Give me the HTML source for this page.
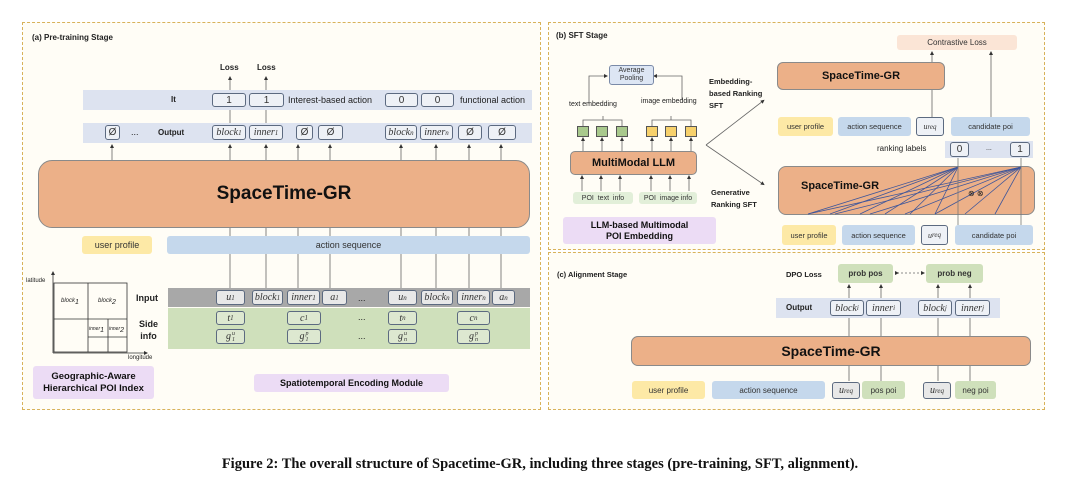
<!DOCTYPE html><html><head><style>
body{margin:0;width:1080px;height:479px;background:#fff;position:relative;overflow:hidden;font-family:"Liberation Sans",sans-serif}
.a{position:absolute;box-sizing:border-box}
.t{position:absolute;white-space:nowrap;font-size:9px;color:#222}
.b{font-weight:bold}
.bx{position:absolute;box-sizing:border-box;border:1px solid #5c6a80;border-radius:3px;background:#eef1f6;font-family:"Liberation Serif",serif;font-style:italic;font-size:10px;display:flex;align-items:center;justify-content:center;color:#333}
.n{font-style:normal;font-family:"Liberation Sans",sans-serif}
.pl{position:absolute;box-sizing:border-box;border-radius:3px;display:flex;align-items:center;justify-content:center;font-size:9px;color:#333}
.or{position:absolute;box-sizing:border-box;background:#ecb088;border:1px solid #8a8a8a;border-radius:10px;display:flex;align-items:center;justify-content:center;font-weight:bold;color:#111}
sub,sup{font-size:7px;line-height:0}
.g{display:inline-flex;align-items:center}
.ss{display:inline-flex;flex-direction:column;font-size:6px;line-height:6px;margin-left:1px}
</style></head><body>
<div class="a" style="left:22px;top:22px;width:519px;height:388px;border:1px dashed #d8b25a;background:#fffdf6"></div>
<div class="a" style="left:548px;top:22px;width:497px;height:228px;border:1px dashed #d8b25a;background:#fffdf6"></div>
<div class="a" style="left:548px;top:252px;width:497px;height:158px;border:1px dashed #d8b25a;background:#fffdf6"></div>

<svg class="a" style="left:0;top:0" width="1080" height="479">
<defs><marker id="ar" markerWidth="5" markerHeight="5" refX="2.5" refY="2.5" orient="auto"><path d="M0,0L5,2.5L0,5z" fill="#333"/></marker></defs>
<g stroke="#666" stroke-width="0.8" fill="none">
<line x1="230" y1="91" x2="230" y2="78" marker-end="url(#ar)"/><line x1="266" y1="91" x2="266" y2="78" marker-end="url(#ar)"/>
<line x1="230" y1="110" x2="230" y2="123"/><line x1="266" y1="110" x2="266" y2="123"/>
<g marker-end="url(#ar)"><line x1="112" y1="160" x2="112" y2="146"/><line x1="230" y1="160" x2="230" y2="146"/><line x1="266" y1="160" x2="266" y2="146"/><line x1="298" y1="160" x2="298" y2="146"/><line x1="330" y1="160" x2="330" y2="146"/><line x1="401" y1="160" x2="401" y2="146"/><line x1="436" y1="160" x2="436" y2="146"/><line x1="469" y1="160" x2="469" y2="146"/><line x1="501" y1="160" x2="501" y2="146"/></g>
<line x1="230" y1="228" x2="230" y2="288"/><line x1="266" y1="228" x2="266" y2="288"/><line x1="298" y1="228" x2="298" y2="288"/><line x1="330" y1="228" x2="330" y2="288"/><line x1="401" y1="228" x2="401" y2="288"/><line x1="436" y1="228" x2="436" y2="288"/><line x1="469" y1="228" x2="469" y2="288"/><line x1="501" y1="228" x2="501" y2="288"/>
<g stroke="#333"><line x1="53" y1="353" x2="53" y2="273" marker-end="url(#ar)"/><line x1="53" y1="353" x2="146" y2="353" marker-end="url(#ar)"/>
<rect x="54" y="283" width="73" height="69"/><line x1="88" y1="283" x2="88" y2="352"/><line x1="54" y1="319" x2="127" y2="319"/><line x1="88" y1="337" x2="127" y2="337"/><line x1="108" y1="319" x2="108" y2="352"/></g>
<polyline points="583,126 583,120 622,120 622,126"/><line x1="603" y1="120" x2="603" y2="116"/><polyline points="589,104 589,76 606,76" marker-end="url(#ar)"/>
<polyline points="652,126 652,120 691,120 691,126"/><line x1="671" y1="120" x2="671" y2="116"/><polyline points="682,100 682,76 655,76" marker-end="url(#ar)"/>
<g marker-end="url(#ar)"><line x1="583" y1="151" x2="583" y2="139"/><line x1="602" y1="151" x2="602" y2="139"/><line x1="622" y1="151" x2="622" y2="139"/><line x1="652" y1="151" x2="652" y2="139"/><line x1="671" y1="151" x2="671" y2="139"/><line x1="691" y1="151" x2="691" y2="139"/>
<line x1="582" y1="191" x2="582" y2="177"/><line x1="601" y1="191" x2="601" y2="177"/><line x1="620" y1="191" x2="620" y2="177"/><line x1="651" y1="191" x2="651" y2="177"/><line x1="670" y1="191" x2="670" y2="177"/><line x1="689" y1="191" x2="689" y2="177"/>
<line x1="706" y1="145" x2="763" y2="101"/><line x1="706" y1="145" x2="763" y2="184"/>
<line x1="932" y1="117" x2="932" y2="53"/><line x1="991" y1="117" x2="991" y2="53"/></g>
<g marker-end="url(#ar)"><line x1="849" y1="298" x2="849" y2="286"/><line x1="881" y1="298" x2="881" y2="286"/><line x1="938" y1="298" x2="938" y2="286"/><line x1="970" y1="298" x2="970" y2="286"/></g>
<line x1="849" y1="318" x2="849" y2="336"/><line x1="881" y1="318" x2="881" y2="336"/><line x1="938" y1="318" x2="938" y2="336"/><line x1="970" y1="318" x2="970" y2="336"/>
<line x1="849" y1="366" x2="849" y2="381"/><line x1="881" y1="366" x2="881" y2="381"/><line x1="938" y1="366" x2="938" y2="381"/><line x1="970" y1="366" x2="970" y2="381"/>
<line x1="897" y1="273" x2="923" y2="273" stroke-dasharray="2,2" marker-end="url(#ar)" marker-start="url(#ar)"/>
</g></svg>

<!-- panel a -->
<div class="t b" style="left:32px;top:33px;font-size:8px">(a) Pre-training Stage</div>
<div class="t b" style="left:220px;top:63px;font-size:8px">Loss</div><div class="t b" style="left:257px;top:63px;font-size:8px">Loss</div>
<div class="a" style="left:83px;top:90px;width:449px;height:20px;background:#dde3f0"></div>
<div class="t b" style="left:171px;top:95px;font-size:8px">It</div>
<div class="bx n" style="left:212px;top:93px;width:34px;height:14px">1</div><div class="bx n" style="left:249px;top:93px;width:35px;height:14px">1</div>
<div class="t" style="left:288px;top:95px">Interest-based action</div>
<div class="bx n" style="left:385px;top:93px;width:33px;height:14px">0</div><div class="bx n" style="left:421px;top:93px;width:33px;height:14px">0</div>
<div class="t" style="left:460px;top:95px">functional action</div>
<div class="a" style="left:83px;top:123px;width:449px;height:20px;background:#dde3f0"></div>
<div class="bx n" style="left:105px;top:125px;width:15px;height:15px">Ø</div>
<div class="t" style="left:131px;top:127px">...</div><div class="t b" style="left:158px;top:128px;font-size:8px">Output</div>
<div class="bx" style="left:212px;top:125px;width:34px;height:15px">block<sub>1</sub></div><div class="bx" style="left:249px;top:125px;width:34px;height:15px">inner<sub>1</sub></div>
<div class="bx n" style="left:296px;top:125px;width:17px;height:15px">Ø</div><div class="bx n" style="left:318px;top:125px;width:25px;height:15px">Ø</div>
<div class="bx" style="left:385px;top:125px;width:32px;height:15px">block<sub>n</sub></div><div class="bx" style="left:420px;top:125px;width:33px;height:15px">inner<sub>n</sub></div>
<div class="bx n" style="left:458px;top:125px;width:24px;height:15px">Ø</div><div class="bx n" style="left:488px;top:125px;width:28px;height:15px">Ø</div>
<div class="or" style="left:38px;top:160px;width:492px;height:68px;font-size:19px;border-radius:14px">SpaceTime-GR</div>
<div class="pl" style="left:82px;top:236px;width:70px;height:18px;background:#fde9a6">user profile</div>
<div class="pl" style="left:167px;top:236px;width:363px;height:18px;background:#c5d8ec">action sequence</div>
<div class="a" style="left:168px;top:288px;width:362px;height:19px;background:#a8a8a8"></div>
<div class="a" style="left:168px;top:308px;width:362px;height:41px;background:#cfe0bb"></div>
<div class="t b" style="left:136px;top:293px">Input</div>
<div class="t b" style="left:139px;top:318px;text-align:center;line-height:12px">Side<br>info</div>
<div class="bx" style="left:216px;top:290px;width:29px;height:15px;background:#e8e8e8">u<sub>1</sub></div>
<div class="bx" style="left:252px;top:290px;width:31px;height:15px;background:#e8e8e8">block<sub>1</sub></div>
<div class="bx" style="left:287px;top:290px;width:33px;height:15px;background:#e8e8e8">inner<sub>1</sub></div>
<div class="bx" style="left:322px;top:290px;width:25px;height:15px;background:#e8e8e8">a<sub>1</sub></div>
<div class="t" style="left:358px;top:293px">...</div>
<div class="bx" style="left:388px;top:290px;width:29px;height:15px;background:#e8e8e8">u<sub>n</sub></div>
<div class="bx" style="left:421px;top:290px;width:32px;height:15px;background:#e8e8e8">block<sub>n</sub></div>
<div class="bx" style="left:457px;top:290px;width:33px;height:15px;background:#e8e8e8">inner<sub>n</sub></div>
<div class="bx" style="left:492px;top:290px;width:23px;height:15px;background:#e8e8e8">a<sub>n</sub></div>
<div class="bx" style="left:216px;top:311px;width:29px;height:14px;background:#dde8d0">t<sub>1</sub></div>
<div class="bx" style="left:287px;top:311px;width:34px;height:14px;background:#dde8d0">c<sub>1</sub></div>
<div class="bx" style="left:388px;top:311px;width:29px;height:14px;background:#dde8d0">t<sub>n</sub></div>
<div class="bx" style="left:457px;top:311px;width:33px;height:14px;background:#dde8d0">c<sub>n</sub></div>
<div class="bx" style="left:216px;top:329px;width:29px;height:15px;background:#dde8d0">g<span class="ss"><span>u</span><span>1</span></span></div>
<div class="bx" style="left:287px;top:329px;width:34px;height:15px;background:#dde8d0">g<span class="ss"><span>p</span><span>1</span></span></div>
<div class="bx" style="left:388px;top:329px;width:29px;height:15px;background:#dde8d0">g<span class="ss"><span>u</span><span>n</span></span></div>
<div class="bx" style="left:457px;top:329px;width:33px;height:15px;background:#dde8d0">g<span class="ss"><span>p</span><span>n</span></span></div>
<div class="t" style="left:358px;top:312px">...</div><div class="t" style="left:358px;top:331px">...</div>
<div class="t" style="left:26px;top:278px;font-size:6px">latitude</div><div class="t" style="left:128px;top:355px;font-size:6px">longitude</div>
<div class="t" style="left:61px;top:298px;font-size:6px;font-style:italic">block<sub>1</sub></div><div class="t" style="left:98px;top:298px;font-size:6px;font-style:italic">block<sub>2</sub></div>
<div class="t" style="left:89px;top:326px;font-size:5px;font-style:italic">inner<sub>1</sub></div><div class="t" style="left:109px;top:326px;font-size:5px;font-style:italic">inner<sub>2</sub></div>
<div class="pl b" style="left:33px;top:366px;width:121px;height:33px;background:#ecdcf5;font-size:9.5px;color:#111;text-align:center;line-height:12px">Geographic-Aware<br>Hierarchical POI Index</div>
<div class="pl b" style="left:254px;top:374px;width:195px;height:18px;background:#ecdcf5;font-size:9px;color:#111">Spatiotemporal Encoding Module</div>

<!-- panel b -->
<div class="t b" style="left:556px;top:31px;font-size:8px">(b) SFT Stage</div>
<div class="pl" style="left:609px;top:65px;width:45px;height:20px;background:#dde6f4;border:1px solid #7a8aa8;font-size:7px;line-height:8px;text-align:center">Average<br>Pooling</div>
<div class="t" style="left:569px;top:101px;font-size:7px">text embedding</div><div class="t" style="left:641px;top:98px;font-size:7px">image embedding</div>
<div class="a" style="left:577px;top:126px;width:12px;height:11px;background:#a9c98d;border:1px solid #555"></div>
<div class="a" style="left:596px;top:126px;width:12px;height:11px;background:#a9c98d;border:1px solid #555"></div>
<div class="a" style="left:616px;top:126px;width:12px;height:11px;background:#a9c98d;border:1px solid #555"></div>
<div class="a" style="left:646px;top:126px;width:12px;height:11px;background:#f7d16c;border:1px solid #555"></div>
<div class="a" style="left:665px;top:126px;width:12px;height:11px;background:#f7d16c;border:1px solid #555"></div>
<div class="a" style="left:685px;top:126px;width:12px;height:11px;background:#f7d16c;border:1px solid #555"></div>
<div class="or" style="left:570px;top:151px;width:127px;height:24px;font-size:11px;border-radius:5px">MultiModal LLM</div>
<div class="pl" style="left:573px;top:192px;width:60px;height:12px;background:#e2efd9;font-size:7px">POI&nbsp; text&nbsp; info</div>
<div class="pl" style="left:639px;top:192px;width:58px;height:12px;background:#e2efd9;font-size:7px">POI&nbsp; image info</div>
<div class="pl b" style="left:563px;top:217px;width:153px;height:27px;background:#ecdcf5;font-size:9px;color:#111;line-height:11px;text-align:center">LLM-based Multimodal<br>POI Embedding</div>
<div class="t b" style="left:709px;top:76px;font-size:7.5px;line-height:12px">Embedding-<br>based Ranking<br>SFT</div>
<div class="t b" style="left:711px;top:187px;font-size:7.5px;line-height:12px">Generative<br>Ranking SFT</div>
<div class="pl" style="left:897px;top:35px;width:120px;height:15px;background:#fbe5d6;font-size:8px">Contrastive Loss</div>
<div class="or" style="left:777px;top:62px;width:168px;height:28px;font-size:11px;border-radius:6px">SpaceTime-GR</div>
<div class="pl" style="left:778px;top:117px;width:55px;height:19px;background:#fde9a6;font-size:7.5px">user profile</div>
<div class="pl" style="left:838px;top:117px;width:73px;height:19px;background:#c5d8ec;font-size:7.5px">action sequence</div>
<div class="bx" style="left:916px;top:117px;width:28px;height:19px;font-size:8px">u<sub>req</sub></div>
<div class="pl" style="left:951px;top:117px;width:79px;height:19px;background:#c5d8ec;font-size:7.5px">candidate poi</div>
<div class="a" style="left:945px;top:141px;width:88px;height:17px;background:#dde3f0"></div>
<div class="t" style="left:877px;top:144px;font-size:8px">ranking labels</div>
<div class="bx n" style="left:950px;top:142px;width:19px;height:15px">0</div><div class="t" style="left:986px;top:145px;font-size:7px">...</div>
<div class="bx n" style="left:1010px;top:142px;width:20px;height:15px">1</div>
<div class="or" style="left:778px;top:166px;width:257px;height:49px;font-size:11px;border-radius:8px;justify-content:flex-start;align-items:flex-start;padding:13px 0 0 22px">SpaceTime-GR</div>
<svg class="a" style="left:0;top:0" width="1080" height="479">
<g stroke="#3d559a" stroke-width="0.8"><line x1="808" y1="214" x2="958" y2="167"/><line x1="830" y1="214" x2="958" y2="167"/><line x1="860" y1="214" x2="958" y2="167"/><line x1="885" y1="214" x2="958" y2="167"/><line x1="910" y1="214" x2="958" y2="167"/><line x1="935" y1="214" x2="958" y2="167"/><line x1="808" y1="214" x2="1021" y2="167"/><line x1="835" y1="214" x2="1021" y2="167"/><line x1="870" y1="214" x2="1021" y2="167"/><line x1="905" y1="214" x2="1021" y2="167"/><line x1="935" y1="214" x2="1021" y2="167"/><line x1="965" y1="214" x2="1021" y2="167"/><line x1="995" y1="214" x2="1021" y2="167"/></g>
<g stroke="#777" stroke-width="0.8"><line x1="958" y1="225" x2="958" y2="158"/><line x1="1021" y1="225" x2="1021" y2="158"/></g>
</svg>
<div class="t" style="left:968px;top:189px;font-size:8px">⊗ ⊗</div>
<div class="pl" style="left:782px;top:225px;width:54px;height:20px;background:#fde9a6;font-size:7.5px">user profile</div>
<div class="pl" style="left:842px;top:225px;width:73px;height:20px;background:#c5d8ec;font-size:7.5px">action sequence</div>
<div class="bx" style="left:921px;top:225px;width:27px;height:20px;font-size:8px">u<sub>req</sub></div>
<div class="pl" style="left:955px;top:225px;width:78px;height:20px;background:#c5d8ec;font-size:7.5px">candidate poi</div>

<!-- panel c -->
<div class="t b" style="left:557px;top:270px;font-size:7.5px">(c) Alignment Stage</div>
<div class="t b" style="left:786px;top:270px;font-size:7.5px">DPO Loss</div>
<div class="pl b" style="left:838px;top:264px;width:55px;height:19px;background:#cfe0bb;font-size:8px">prob pos</div>
<div class="pl b" style="left:926px;top:264px;width:57px;height:19px;background:#cfe0bb;font-size:8px">prob neg</div>
<div class="a" style="left:776px;top:298px;width:224px;height:20px;background:#dde3f0"></div>
<div class="t b" style="left:786px;top:303px;font-size:8px">Output</div>
<div class="bx" style="left:830px;top:300px;width:34px;height:16px">block<sub>i</sub></div>
<div class="bx" style="left:866px;top:300px;width:35px;height:16px">inner<sub>i</sub></div>
<div class="bx" style="left:918px;top:300px;width:34px;height:16px">block<sub>j</sub></div>
<div class="bx" style="left:955px;top:300px;width:35px;height:16px">inner<sub>j</sub></div>
<div class="or" style="left:631px;top:336px;width:400px;height:30px;font-size:14px;border-radius:7px">SpaceTime-GR</div>
<div class="pl" style="left:632px;top:381px;width:73px;height:18px;background:#fde9a6;font-size:8px">user profile</div>
<div class="pl" style="left:712px;top:381px;width:113px;height:18px;background:#c5d8ec;font-size:8px">action sequence</div>
<div class="bx" style="left:832px;top:382px;width:28px;height:17px;background:#e8e8e8">u<sub>req</sub></div>
<div class="pl" style="left:862px;top:381px;width:43px;height:18px;background:#cfe0bb;font-size:8px">pos poi</div>
<div class="bx" style="left:923px;top:382px;width:28px;height:17px;background:#e8e8e8">u<sub>req</sub></div>
<div class="pl" style="left:955px;top:381px;width:41px;height:18px;background:#cfe0bb;font-size:8px">neg poi</div>

<div class="t" style="left:0;width:1080px;top:456px;text-align:center;font-family:'Liberation Serif',serif;font-weight:bold;font-size:14.5px;color:#111">Figure 2: The overall structure of Spacetime-GR, including three stages (pre-training, SFT, alignment).</div>
</body></html>
